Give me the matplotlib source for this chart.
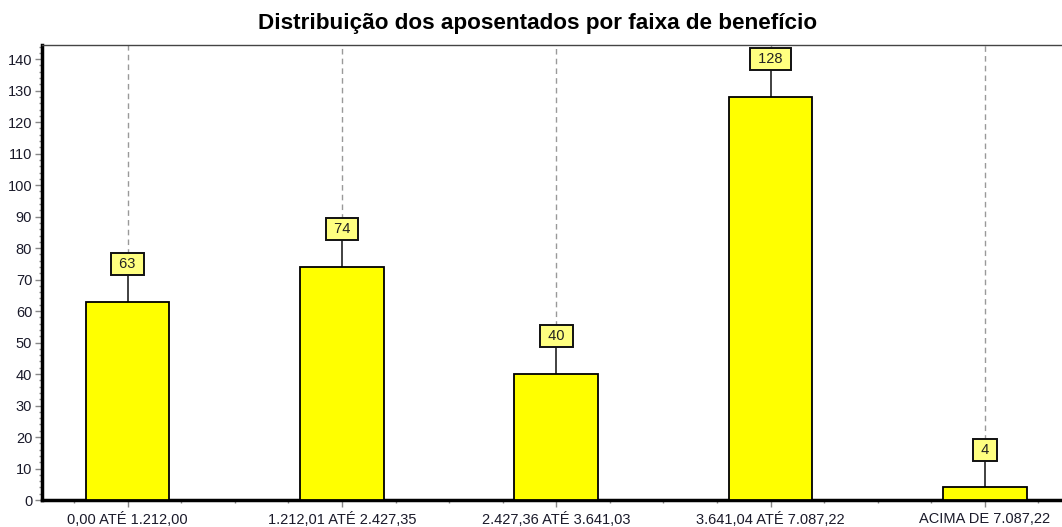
import numpy as np
import matplotlib
matplotlib.use("Agg")
import matplotlib.pyplot as plt
from matplotlib.ticker import MultipleLocator

plt.rcParams['font.family'] = ['Liberation Sans', 'DejaVu Sans']

faixas = ["0,00 ATÉ 1.212,00", "1.212,01 ATÉ 2.427,35", "2.427,36 ATÉ 3.641,03",
          "3.641,04 ATÉ 7.087,22", "ACIMA DE 7.087,22"]
aposentados = [63, 74, 40, 128, 4]

fig = plt.figure(figsize=(10.62, 5.27), dpi=100)
ax = fig.add_axes([0.0395, 0.0512, 0.9605, 0.8634])

x = np.arange(len(faixas))
ax.bar(x, aposentados, width=0.39, color="#ffff00", edgecolor="black", linewidth=1.3, zorder=3)

ymax = 144.5
offset = 12
for xi, v in zip(x, aposentados):
    ly = v + offset
    # linha cheia da barra até a caixa, tracejada da caixa até o topo
    ax.plot([xi, xi], [v, ly], color="#333333", lw=1.3, zorder=2)
    ax.plot([xi, xi], [ly, ymax], color="#999999", lw=1, ls=(0, (4, 3)), zorder=1)
    ax.text(xi, ly, f" {v} ", ha="center", va="center", fontsize=10.5, color="#222222", zorder=4,
            bbox=dict(boxstyle="square,pad=0.28", fc="#ffff80", ec="#111111", lw=1.4))

ax.set_xlim(-0.4, 4.36)
ax.set_ylim(0, ymax)
ax.set_xticks(x)
ax.set_xticklabels(faixas)
ax.xaxis.set_minor_locator(MultipleLocator(0.25))
ax.yaxis.set_major_locator(MultipleLocator(10))
ax.yaxis.set_minor_locator(MultipleLocator(2))
ax.tick_params(axis="both", labelsize=10.5, colors="#222222", length=4, width=1)
ax.tick_params(axis="both", which="minor", length=2, width=1, colors="#888888")
ax.tick_params(axis="x", which="major", length=5, colors="#888888", labelcolor="#1a1a2a")
ax.tick_params(axis="y", which="major", length=5, colors="#888888", labelcolor="#1a1a2a", pad=2)

ax.spines["left"].set_linewidth(2.5)
ax.spines["bottom"].set_linewidth(2.5)
ax.spines["top"].set_linewidth(1)
ax.spines["top"].set_color("#444444")
ax.spines["right"].set_visible(False)

fig.text(0.506, 0.955, "Distribuição dos aposentados por faixa de benefício", ha="center", va="center",
         fontsize=16.2, fontweight="bold")

fig.savefig("out.png", dpi=100)
